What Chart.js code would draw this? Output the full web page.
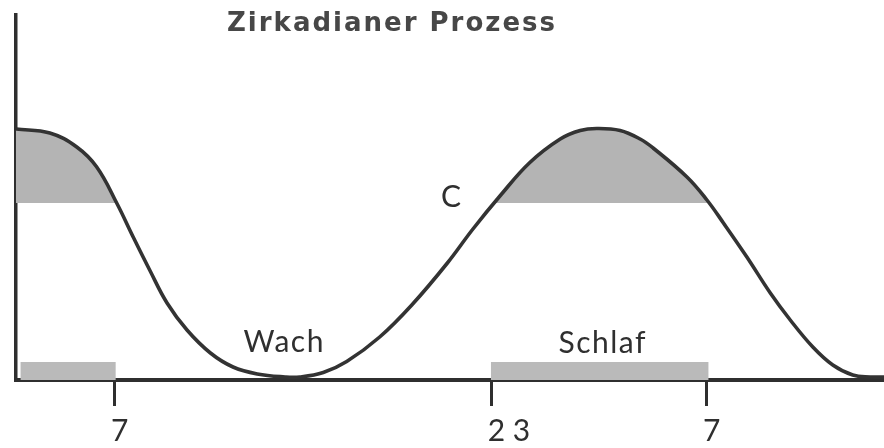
<!DOCTYPE html>
<html>
<head>
<meta charset="utf-8">
<title>Zirkadianer Prozess</title>
<script src="https://cdn.jsdelivr.net/npm/chart.js@4/dist/chart.umd.min.js"></script>
<style>
  html, body { margin: 0; padding: 0; background: #ffffff; }
  #wrap { width: 884px; height: 448px; }
</style>
</head>
<body>
<div id="wrap"><canvas id="c" width="884" height="448"></canvas></div>
<script>
// Circadian process C across a day (x: position along the day, y: level)
const curveX = [0, 3.9, 7.0, 9.3, 11.6, 13.5, 15.4, 17.4, 19.7, 22.4,
                25.0, 27.8, 31.0, 32.7, 35.4, 38.1, 41.9, 45.7, 49.7, 52.6,
                55.8, 59.2, 62.7, 65.0, 66.9, 69.6, 71.9, 73.4, 77.3, 79.6,
                81.5, 84.2, 86.9, 89.2, 91.8, 94.1, 96.4, 98.4, 100];
const curveY = [50.2, 49.4, 46.6, 42.6, 35.4, 28.6, 22.0, 15.4, 10.0, 5.4,
                2.6, 1.2, 0.6, 0.6, 1.5, 3.7, 8.6, 15.2, 23.4, 30.1,
                36.9, 43.5, 48.2, 49.9, 50.3, 49.9, 48.2, 46.4, 40.6, 36.0,
                31.4, 24.6, 17.4, 12.0, 6.6, 3.0, 1.0, 0.6, 0.6];

// level above which the curve is shaded
const shadeLevel = 35.4;

// sleep periods marked along the time axis
const sleepStart = [0.5, 54.7];
const sleepEnd = [11.5, 79.8];
const sleepBandHeight = 3.6;

// clock-time ticks
const tickX = [11.4, 54.8, 79.6];
const tickLabels = ['7', '2 3', '7'];

const titleText = 'Zirkadianer Prozess';
const noteTexts = ['Wach', 'Schlaf', 'C'];
const noteX = [30.9, 67.6, 50.2];
const noteY = [5.6, 5.4, 34.6];

const INK = '#2f2f2f';

const datasets = [{
  label: 'C',
  data: curveX.map((x, i) => ({ x, y: curveY[i] })),
  borderColor: '#333333',
  borderWidth: 3.6,
  pointRadius: 0,
  tension: 0.4,
  fill: { target: { value: shadeLevel }, above: '#b4b4b4', below: 'rgba(0,0,0,0)' },
  order: 1
}];
sleepStart.forEach((s, i) => {
  datasets.push({
    label: 'Schlaf ' + (i + 1),
    data: [{ x: s, y: sleepBandHeight }, { x: sleepEnd[i], y: sleepBandHeight }],
    borderWidth: 0,
    borderColor: 'rgba(0,0,0,0)',
    backgroundColor: '#bababa',
    pointRadius: 0,
    tension: 0,
    fill: { target: { value: 0 } },
    order: 2
  });
});

const textPlugin = {
  id: 'texts',
  afterDraw(chart) {
    const ctx = chart.ctx;
    const xs = chart.scales.x, ys = chart.scales.y;
    ctx.save();
    // title, bold and slightly letter-spaced
    ctx.font = 'bold 26px "DejaVu Sans"';
    ctx.fillStyle = '#474747';
    ctx.textBaseline = 'alphabetic';
    ctx.textAlign = 'center';
    ctx.letterSpacing = '2px';
    ctx.fillText(titleText, 392, 31);
    // annotations
    ctx.font = '30px Lato';
    ctx.fillStyle = INK;
    ctx.letterSpacing = '1.5px';
    noteTexts.forEach((t, i) => {
      ctx.fillText(t, xs.getPixelForValue(noteX[i]), ys.getPixelForValue(noteY[i]));
    });
    ctx.restore();
  }
};

new Chart(document.getElementById('c'), {
  type: 'line',
  data: { datasets },
  options: {
    responsive: false,
    animation: false,
    devicePixelRatio: 1,
    layout: { padding: { top: 15, left: 0, right: 0, bottom: 0 } },
    plugins: { legend: { display: false }, tooltip: { enabled: false }, title: { display: false } },
    scales: {
      x: {
        type: 'linear',
        min: 0,
        max: 100,
        z: 1,
        border: { display: true, color: INK, width: 4 },
        grid: {
          display: true,
          drawOnChartArea: false,
          drawTicks: true,
          tickLength: 26,
          tickWidth: 3,
          tickColor: INK,
          color: INK
        },
        afterBuildTicks: (scale) => { scale.ticks = tickX.map(v => ({ value: v })); },
        afterFit: (scale) => { scale.height = 68; },
        ticks: {
          autoSkip: false,
          maxRotation: 0,
          align: 'start',
          labelOffset: -4,
          padding: 7,
          color: INK,
          font: { family: 'Lato', size: 30 },
          callback: (v, i) => tickLabels[i]
        }
      },
      y: {
        type: 'linear',
        min: 0,
        max: 73,
        border: { display: true, color: INK, width: 3.5 },
        grid: { display: false },
        ticks: { display: false },
        afterFit: (scale) => { scale.width = 16; }
      }
    }
  },
  plugins: [textPlugin]
});
</script>
</body>
</html>
